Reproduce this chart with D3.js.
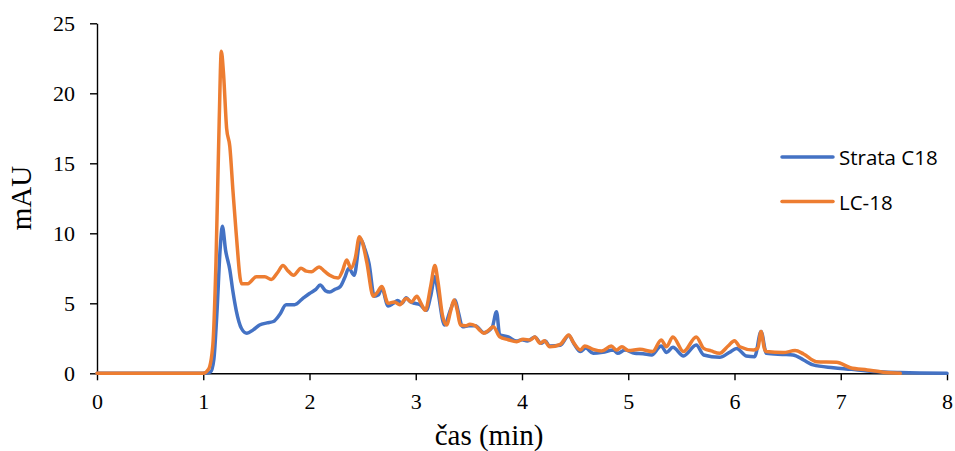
<!DOCTYPE html>
<html lang="en">
<head>
    <meta charset="UTF-8" />
    <title>Chromatogram</title>
    <script src="https://d3js.org/d3.v7.min.js"></script>
    <style>
        body { margin: 0; background: #fff; }
        .axis text { font-family: "Liberation Serif", serif; font-size: 22px; fill: #000; }
        .axis path, .axis line { stroke: #000; stroke-width: 1.4; }
        .title { font-family: "Liberation Serif", serif; font-size: 29px; fill: #000; }
        .legend { font-family: "Open Sans", sans-serif; font-size: 20.5px; fill: #000; }
    </style>
</head>
<body>
    <script>
        // [time (min), mAU]
        var strata = [
            [0, 0], [0.5, 0], [1.0, 0], [1.07, 0.1], [1.10, 1], [1.13, 4.5], [1.16, 9], [1.18, 10.5],
            [1.21, 8.8], [1.25, 7.4], [1.28, 5.8], [1.31, 4.5], [1.36, 3.2], [1.41, 2.86], [1.47, 3.1],
            [1.53, 3.45], [1.60, 3.6], [1.66, 3.7], [1.72, 4.2], [1.78, 4.9], [1.86, 4.9], [1.93, 5.3],
            [2.00, 5.7], [2.06, 6.0], [2.10, 6.3], [2.15, 5.9], [2.19, 5.8], [2.24, 6.0], [2.29, 6.2],
            [2.33, 6.8], [2.37, 7.5], [2.42, 7.0], [2.48, 9.6], [2.52, 8.9], [2.56, 7.85], [2.61, 5.5],
            [2.65, 5.6], [2.68, 6.1], [2.74, 4.8], [2.79, 5.0], [2.83, 5.2], [2.87, 5.0], [2.91, 5.4],
            [2.95, 5.1], [2.99, 5.0], [3.04, 4.9], [3.10, 4.5], [3.14, 5.5], [3.18, 6.9], [3.21, 5.8],
            [3.27, 3.45], [3.33, 4.6], [3.37, 5.24], [3.40, 4.4], [3.44, 3.33], [3.50, 3.4], [3.56, 3.4],
            [3.64, 2.9], [3.72, 3.3], [3.76, 4.4], [3.79, 2.74], [3.87, 2.6], [3.95, 2.3], [4.00, 2.4],
            [4.05, 2.3], [4.12, 2.6], [4.18, 2.14], [4.22, 2.3], [4.26, 1.95], [4.36, 2.0], [4.44, 2.7],
            [4.49, 2.1], [4.55, 1.55], [4.60, 1.8], [4.67, 1.43], [4.76, 1.5], [4.86, 1.66], [4.90, 1.43],
            [4.97, 1.66], [5.06, 1.43], [5.14, 1.4], [5.22, 1.31], [5.31, 1.95], [5.36, 1.48], [5.42, 1.86],
            [5.52, 1.24], [5.64, 2.02], [5.71, 1.31], [5.86, 1.14], [5.95, 1.48], [6.02, 1.78], [6.11, 1.24],
            [6.19, 1.19], [6.25, 2.98], [6.30, 1.43], [6.45, 1.35], [6.55, 1.31], [6.65, 0.95], [6.74, 0.6],
            [6.93, 0.4], [7.10, 0.28], [7.25, 0.16], [7.56, 0.05], [8.0, 0]
        ];

        var lc18 = [
            [0, 0], [0.5, 0], [1.0, 0], [1.05, 0.3], [1.09, 2], [1.12, 8], [1.15, 18], [1.17, 23.0],
            [1.19, 21.5], [1.22, 17.5], [1.25, 16.2], [1.28, 13], [1.31, 10], [1.36, 6.4], [1.42, 6.4],
            [1.50, 6.9], [1.58, 6.9], [1.64, 6.7], [1.70, 7.2], [1.75, 7.7], [1.80, 7.3], [1.85, 7.0],
            [1.92, 7.5], [1.97, 7.3], [2.02, 7.26], [2.09, 7.6], [2.14, 7.3], [2.19, 7.0], [2.27, 6.8],
            [2.31, 7.3], [2.35, 8.1], [2.39, 7.5], [2.43, 8.2], [2.47, 9.76], [2.50, 9.3], [2.54, 7.9],
            [2.60, 5.5], [2.64, 5.8], [2.68, 6.2], [2.74, 5.0], [2.80, 5.1], [2.85, 4.9], [2.91, 5.35],
            [2.96, 5.1], [3.01, 5.5], [3.05, 5.0], [3.09, 4.5], [3.14, 6.2], [3.18, 7.7], [3.21, 6.5],
            [3.25, 4.2], [3.29, 3.45], [3.33, 4.5], [3.36, 5.24], [3.39, 4.5], [3.42, 3.45], [3.47, 3.4],
            [3.51, 3.5], [3.56, 3.4], [3.60, 3.1], [3.64, 2.86], [3.69, 3.1], [3.73, 3.33], [3.79, 2.6],
            [3.87, 2.4], [3.95, 2.26], [4.01, 2.43], [4.08, 2.38], [4.12, 2.6], [4.17, 2.14], [4.21, 2.33],
            [4.26, 1.9], [4.36, 2.07], [4.44, 2.74], [4.48, 2.26], [4.55, 1.66], [4.59, 1.95], [4.67, 1.71],
            [4.75, 1.59], [4.84, 1.95], [4.89, 1.66], [4.94, 1.9], [5.00, 1.62], [5.11, 1.71], [5.23, 1.55],
            [5.31, 2.38], [5.36, 1.9], [5.42, 2.6], [5.52, 1.55], [5.64, 2.6], [5.71, 1.78], [5.78, 1.6],
            [5.86, 1.43], [5.94, 1.95], [6.00, 2.33], [6.05, 1.9], [6.18, 1.66], [6.22, 1.8], [6.25, 2.98],
            [6.28, 1.8], [6.30, 1.55], [6.46, 1.48], [6.57, 1.62], [6.65, 1.38], [6.77, 0.83], [6.96, 0.79],
            [7.09, 0.4], [7.25, 0.24], [7.40, 0.08], [7.56, 0]
        ];

        var xTicks = [0, 1, 2, 3, 4, 5, 6, 7, 8];
        var yTicks = [0, 5, 10, 15, 20, 25];
        var seriesNames = ["Strata C18", "LC-18"];
        var seriesColors = ["#4472C4", "#ED7D31"];

        var w = 955, h = 451;

        var svg = d3.select("body")
            .append("svg")
            .attr("width", w)
            .attr("height", h);

        var xScale = d3.scaleLinear()
            .domain([0, 8])
            .range([97, 947]);

        var yScale = d3.scaleLinear()
            .domain([0, 25])
            .range([373.3, 23.3]);

        var line = d3.line()
            .x(function (d) { return xScale(d[0]); })
            .y(function (d) { return yScale(d[1]); })
            .curve(d3.curveMonotoneX);

        // Y axis
        svg.append("g")
            .attr("class", "axis")
            .attr("transform", "translate(" + xScale(0) + ",0)")
            .call(d3.axisLeft(yScale).tickValues(yTicks).tickSize(7).tickSizeOuter(0).tickPadding(15));

        // X axis
        svg.append("g")
            .attr("class", "axis")
            .attr("transform", "translate(0," + yScale(0) + ")")
            .call(d3.axisBottom(xScale).tickValues(xTicks).tickSize(7).tickSizeOuter(0).tickPadding(13));

        // lines
        [strata, lc18].forEach(function (data, i) {
            svg.append("path")
                .datum(data)
                .attr("fill", "none")
                .attr("stroke", seriesColors[i])
                .attr("stroke-width", 3.5)
                .attr("stroke-linejoin", "round")
                .attr("stroke-linecap", "round")
                .attr("d", line);
        });

        // axis titles
        svg.append("text")
            .attr("class", "title")
            .attr("text-anchor", "middle")
            .attr("x", 489)
            .attr("y", 445)
            .text("čas (min)");

        svg.append("text")
            .attr("class", "title")
            .attr("text-anchor", "middle")
            .attr("transform", "rotate(-90)")
            .attr("x", -198)
            .attr("y", 31)
            .text("mAU");

        // legend
        var legend = svg.append("g");
        seriesNames.forEach(function (name, i) {
            var ly = 157 + i * 44.5;
            legend.append("line")
                .attr("x1", 782).attr("x2", 833)
                .attr("y1", ly).attr("y2", ly)
                .attr("stroke", seriesColors[i])
                .attr("stroke-width", 3.5)
                .attr("stroke-linecap", "round");
            legend.append("text")
                .attr("class", "legend")
                .attr("x", 839)
                .attr("y", ly + 8)
                .text(name);
        });
    </script>
</body>
</html>
